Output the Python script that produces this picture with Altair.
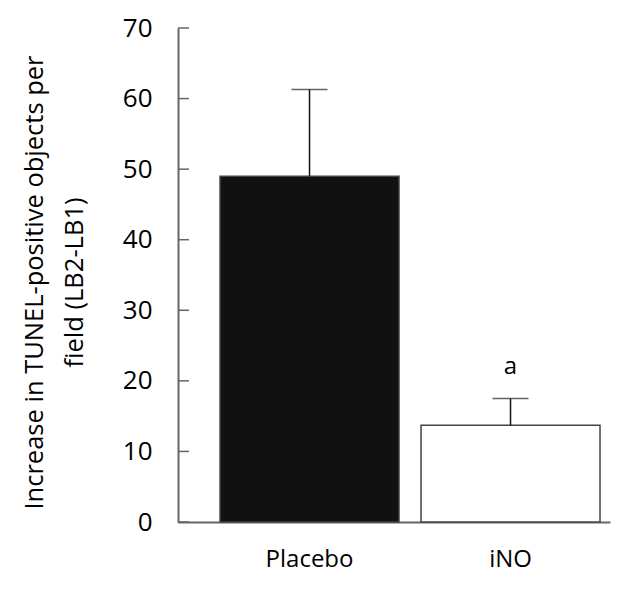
import altair as alt
import pandas as pd

groups = ["Placebo", "iNO"]
means = [49.0, 13.7]
upper = [61.3, 17.5]
fills = ["#111111", "#ffffff"]
tick_values = [0, 10, 20, 30, 40, 50, 60, 70]
annot_text = ["a"]
annot_group = ["iNO"]
annot_y = [22.0]

df = pd.DataFrame({"group": groups, "mean": means, "upper": upper, "fill": fills})
ticks_df = pd.DataFrame({"v": tick_values})
annot_df = pd.DataFrame({"group": annot_group, "y": annot_y, "t": annot_text})

FONT = "Open Sans"

xscale = alt.Scale(domain=groups, paddingInner=0.1095, paddingOuter=0.1294, align=0.808)
yscale = alt.Scale(domain=[0, 70], nice=False, zero=True)

xenc = alt.X("group:N", scale=xscale, sort=groups,
             axis=alt.Axis(title=None, labelAngle=0, ticks=False, labelFontSize=24,
                           labelFont=FONT, labelColor="#000", labelPadding=25,
                           domainColor="#666666", domainWidth=2))
yaxis = alt.Axis(title=["Increase in TUNEL-positive objects per", "field (LB2-LB1)"],
                 values=tick_values, ticks=False, grid=False, labelFontSize=26,
                 labelFont=FONT, labelColor="#000", labelPadding=26,
                 domainColor="#666666", domainWidth=2,
                 titleFont=FONT, titleFontSize=25.5, titleFontWeight="normal",
                 titleColor="#000", titleAngle=-90, titleBaseline="top",
                 titleAlign="center", titleLineHeight=40, titleX=-156, titleY=254)

bars = alt.Chart(df).mark_bar(stroke="#444444", strokeWidth=1.5).encode(
    x=xenc,
    y=alt.Y("mean:Q", scale=yscale, axis=yaxis),
    fill=alt.Fill("fill:N", scale=None),
)

err = alt.Chart(df).mark_rule(color="#111111", strokeWidth=1.5).encode(
    x=alt.X("group:N", scale=xscale, sort=groups),
    y=alt.Y("mean:Q", scale=yscale),
    y2="upper:Q",
)

caps = alt.Chart(df).mark_tick(color="#222222", thickness=1.5, size=36, orient="horizontal").encode(
    x=alt.X("group:N", scale=xscale, sort=groups),
    y=alt.Y("upper:Q", scale=yscale),
)

yticks = alt.Chart(ticks_df).mark_rule(color="#666666", strokeWidth=1.5).encode(
    y=alt.Y("v:Q", scale=yscale),
    x=alt.value(0),
    x2=alt.value(11),
)

annot = alt.Chart(annot_df).mark_text(font=FONT, fontSize=24, color="#000").encode(
    x=alt.X("group:N", scale=xscale, sort=groups),
    y=alt.Y("y:Q", scale=yscale),
    text="t:N",
)

chart = alt.layer(bars, err, caps, yticks, annot).properties(
    width=432, height=494,
    autosize=alt.AutoSizeParams(type="none"),
    padding={"left": 170, "top": 20, "right": 19, "bottom": 61},
    background="white",
).configure_view(stroke=None)

chart.save("out.html", embed_options={"renderer": "svg", "actions": False})
